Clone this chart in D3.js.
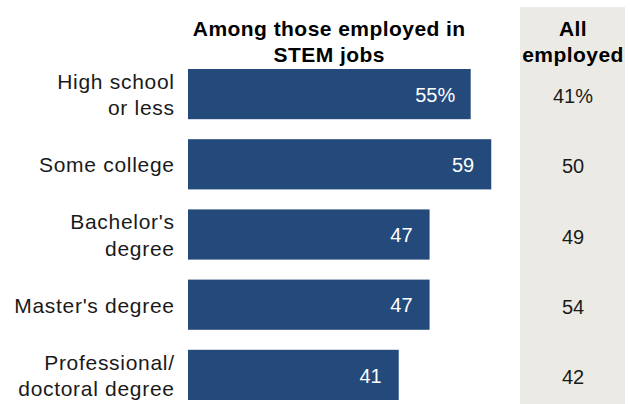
<!DOCTYPE html>
<html>
<head>
<meta charset="utf-8">
<script src="https://cdn.jsdelivr.net/npm/d3@7"></script>
<style>
  html, body { margin: 0; padding: 0; background: #fff; }
  svg { display: block; font-family: "Liberation Sans", Arial, sans-serif; }
</style>
</head>
<body>
<svg id="chart" width="630" height="404"></svg>
<script>
const categories = ["High school\nor less", "Some college", "Bachelor's\ndegree", "Master's degree", "Professional/\ndoctoral degree"];
const stemValues = [55, 59, 47, 47, 41];
const allEmployedValues = [41, 50, 49, 54, 42];
const stemTitle = ["Among those employed in", "STEM jobs"];
const allTitle = ["All", "employed"];

const svg = d3.select("#chart");
const W = 630, H = 404;

const x = d3.scaleLinear().domain([0, 100]).range([188, 702]);
const y = d3.scaleBand().domain(categories).range([69, 400]).paddingInner(0.285).paddingOuter(0);

const colX0 = 520, colX1 = 625, colCx = 573;
const fs = 21, lineGap = 26.5, cap = 0.358 * fs, ls = 0.7;

// gray column
svg.append("rect").attr("x", colX0).attr("y", 7).attr("width", colX1 - colX0).attr("height", H - 7)
  .attr("fill", "#ECEAE4");

// headers
const titleG = svg.append("g").attr("font-weight", "bold").attr("font-size", 21).attr("fill", "#000")
  .attr("text-anchor", "middle").attr("letter-spacing", 0.45);
stemTitle.forEach((t, i) => titleG.append("text").attr("x", 329 + 0.22).attr("y", 36 + i * 25.7).text(t));
allTitle.forEach((t, i) => titleG.append("text").attr("x", 573).attr("y", 36 + i * 25.7).text(t));

// bars
svg.append("g").selectAll("rect").data(categories).join("rect")
  .attr("x", x(0))
  .attr("y", d => y(d))
  .attr("width", (d, i) => x(stemValues[i]) - x(0))
  .attr("height", y.bandwidth())
  .attr("fill", "#234A7B");

// bar labels
svg.append("g").selectAll("text").data(categories).join("text")
  .attr("x", (d, i) => x(stemValues[i]) - (i === 0 ? 15.5 : 17))
  .attr("y", d => y(d) + y.bandwidth() / 2 + 0.358 * 20 + 0.5)
  .attr("text-anchor", "end")
  .attr("font-size", 20)
  .attr("fill", "#fff")
  .text((d, i) => stemValues[i] + (i === 0 ? "%" : ""));

// category labels
const labG = svg.append("g").attr("font-size", fs).attr("fill", "#1a1a1a").attr("text-anchor", "end")
  .attr("letter-spacing", ls);
categories.forEach(c => {
  const lines = c.split("\n");
  const cy = y(c) + y.bandwidth() / 2 + 0.5;
  const t = labG.append("text").attr("x", 174 + ls);
  lines.forEach((ln, j) => {
    t.append("tspan").attr("x", 174 + ls)
      .attr("y", cy - (lines.length - 1) * lineGap / 2 + j * lineGap + cap)
      .text(ln);
  });
});

// all employed values
svg.append("g").selectAll("text").data(categories).join("text")
  .attr("x", colCx)
  .attr("y", d => y(d) + y.bandwidth() / 2 + 0.358 * 20 + 2)
  .attr("text-anchor", "middle")
  .attr("font-size", 20)
  .attr("fill", "#1a1a1a")
  .text((d, i) => allEmployedValues[i] + (i === 0 ? "%" : ""));
</script>
</body>
</html>
